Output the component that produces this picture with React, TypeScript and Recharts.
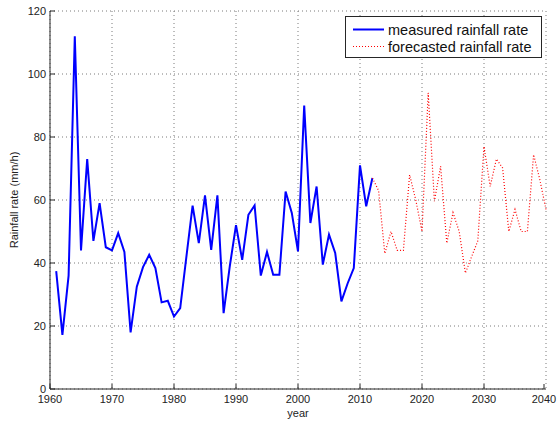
import { CartesianGrid, Legend, Line, LineChart, XAxis, YAxis } from "recharts";

// measured annual rainfall rate (mm/h)
const measuredYears = [
  1961, 1962, 1963, 1964, 1965, 1966, 1967, 1968, 1969, 1970, 1971, 1972, 1973,
  1974, 1975, 1976, 1977, 1978, 1979, 1980, 1981, 1982, 1983, 1984, 1985, 1986,
  1987, 1988, 1989, 1990, 1991, 1992, 1993, 1994, 1995, 1996, 1997, 1998, 1999,
  2000, 2001, 2002, 2003, 2004, 2005, 2006, 2007, 2008, 2009, 2010, 2011, 2012,
];
const measuredRate = [
  37.4, 17.2, 36, 112, 44, 73, 47, 59, 45, 44, 49.5, 43.5, 18, 32.5, 38.7, 42.6,
  38.4, 27.5, 28, 23, 25.7, 42, 58.2, 46.3, 61.5, 44.2, 61.5, 24.1, 39, 52, 41,
  55.3, 58.3, 36, 43.5, 36.3, 36.3, 62.7, 55.9, 43.7, 90, 52.7, 64.3, 39.5, 49,
  43.2, 27.8, 33.5, 38.4, 71, 58, 67,
];

// forecast
const forecastYears = [
  2012, 2013, 2014, 2015, 2016, 2017, 2018, 2019, 2020, 2021, 2022, 2023, 2024,
  2025, 2026, 2027, 2028, 2029, 2030, 2031, 2032, 2033, 2034, 2035, 2036, 2037,
  2038, 2039, 2040,
];
const forecastRate = [
  67, 63, 43, 50, 44, 44, 68, 60, 50, 94, 59.6, 70.7, 46.3, 56, 50, 36.8, 42, 47,
  77, 64.3, 73, 70.2, 50, 57, 50, 50, 74.4, 66.5, 57,
];

const xTicks = [1960, 1970, 1980, 1990, 2000, 2010, 2020, 2030, 2040];
const yTicks = [0, 20, 40, 60, 80, 100, 120];

type Row = { year: number; measured?: number; forecast?: number };

const byYear = new Map<number, Row>();
measuredYears.forEach((yr, i) => {
  byYear.set(yr, { year: yr, measured: measuredRate[i] });
});
forecastYears.forEach((yr, i) => {
  const row = byYear.get(yr) ?? { year: yr };
  row.forecast = forecastRate[i];
  byYear.set(yr, row);
});
const rows = [...byYear.values()].sort((a, b) => a.year - b.year);

const AXIS = "#262626";
const FONT = "'Liberation Sans', Arial, sans-serif";

const BottomTick = (props: any) => {
  const { x, y, payload } = props;
  return (
    <g>
      <line x1={x} x2={x} y1={y} y2={y - 5} stroke={AXIS} />
      <text x={x} y={y + 14} textAnchor="middle" fontSize={11} fill="#222" fontFamily={FONT}>
        {payload.value}
      </text>
    </g>
  );
};

const TopTick = (props: any) => {
  const { x, y } = props;
  return <line x1={x} x2={x} y1={y} y2={y + 5} stroke={AXIS} />;
};

const LeftTick = (props: any) => {
  const { x, y, payload } = props;
  return (
    <g>
      <line x1={x} x2={x + 5} y1={y} y2={y} stroke={AXIS} />
      <text x={x - 4} y={y + 4} textAnchor="end" fontSize={11} fill="#222" fontFamily={FONT}>
        {payload.value}
      </text>
    </g>
  );
};

const RightTick = (props: any) => {
  const { x, y } = props;
  return <line x1={x} x2={x - 5} y1={y} y2={y} stroke={AXIS} />;
};

function LegendBox() {
  const row = (label: string, color: string, dash?: string, width = 2) => (
    <div style={{ display: "flex", alignItems: "center", height: 17 }}>
      <svg width={35} height={17} style={{ flex: "none" }}>
        <line x1={0} x2={31} y1={8.5} y2={8.5} stroke={color} strokeWidth={width} strokeDasharray={dash} />
      </svg>
      <span style={{ fontSize: 14.5, color: "#111", whiteSpace: "nowrap" }}>{label}</span>
    </div>
  );
  return (
    <div
      style={{
        boxSizing: "border-box",
        width: 197,
        height: 42,
        border: `1px solid ${AXIS}`,
        background: "#fff",
        padding: "4px 0 0 7px",
        fontFamily: FONT,
      }}
    >
      {row("measured rainfall rate", "#0000ff")}
      {row("forecasted rainfall rate", "#ff0000", "1 2", 1)}
    </div>
  );
}

export default function App() {
  return (
    <div style={{ position: "absolute", left: 0, top: 0, width: 560, height: 421, background: "#fff" }}>
      <LineChart width={560} height={421} data={rows} margin={{ top: 11, right: 14, bottom: 0, left: 0 }}>
        <CartesianGrid stroke="#7a7a7a" strokeDasharray="1 3" />
        <XAxis
          dataKey="year"
          type="number"
          domain={[1960, 2040]}
          ticks={xTicks}
          height={32}
          stroke={AXIS}
          tickLine={false}
          tickSize={0}
          tickMargin={0}
          tick={<BottomTick />}
          label={{ value: "year", position: "insideBottom", offset: 4, fontSize: 11, fill: "#222", fontFamily: FONT }}
        />
        <XAxis
          xAxisId="top"
          orientation="top"
          dataKey="year"
          type="number"
          domain={[1960, 2040]}
          ticks={xTicks}
          height={0}
          stroke={AXIS}
          tickLine={false}
          tickSize={0}
          tickMargin={0}
          tick={<TopTick />}
        />
        <YAxis
          domain={[0, 120]}
          ticks={yTicks}
          width={50}
          stroke={AXIS}
          tickLine={false}
          tickSize={0}
          tickMargin={0}
          tick={<LeftTick />}
          label={{
            value: "Rainfall rate (mm/h)",
            angle: -90,
            position: "insideLeft",
            offset: 14,
            fontSize: 11,
            fill: "#222",
            fontFamily: FONT,
            style: { textAnchor: "middle" },
          }}
        />
        <YAxis
          yAxisId="right"
          orientation="right"
          domain={[0, 120]}
          ticks={yTicks}
          width={0}
          stroke={AXIS}
          tickLine={false}
          tickSize={0}
          tickMargin={0}
          tick={<RightTick />}
        />
        <Legend
          layout="vertical"
          align="center"
          verticalAlign="middle"
          wrapperStyle={{ top: 16, left: 345, width: 197 }}
          content={() => <LegendBox />}
        />
        <Line
          dataKey="measured"
          type="linear"
          stroke="#0000ff"
          strokeWidth={2}
          dot={false}
          activeDot={false}
          isAnimationActive={false}
        />
        <Line
          dataKey="forecast"
          type="linear"
          stroke="#ff0000"
          strokeWidth={1.2}
          strokeDasharray="1 2"
          dot={false}
          activeDot={false}
          isAnimationActive={false}
        />
      </LineChart>
    </div>
  );
}
